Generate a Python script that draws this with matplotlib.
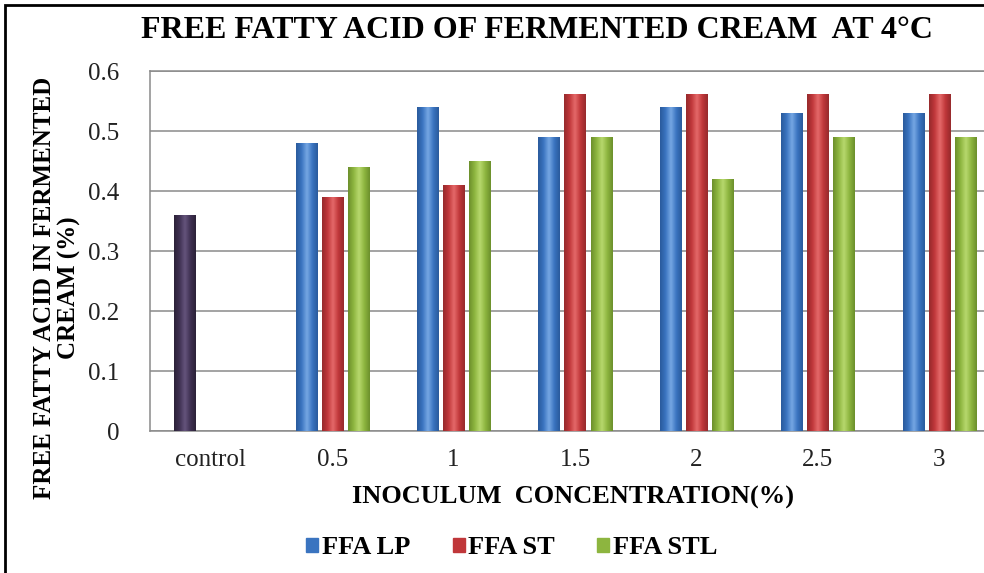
import numpy as np
import matplotlib
matplotlib.use('Agg')
import matplotlib.pyplot as plt
from matplotlib.colors import LinearSegmentedColormap
from matplotlib.patches import Rectangle

# Data
categories = ['control', '0.5', '1', '1.5', '2', '2.5', '3']
control_value = [0.36]
ffa_lp = [np.nan, 0.48, 0.54, 0.49, 0.54, 0.53, 0.53]
ffa_st = [np.nan, 0.39, 0.41, 0.56, 0.56, 0.56, 0.56]
ffa_stl = [np.nan, 0.44, 0.45, 0.49, 0.42, 0.49, 0.49]
series_names = ['FFA LP', 'FFA ST', 'FFA STL']
yticks = [0, 0.1, 0.2, 0.3, 0.4, 0.5, 0.6]

serif = 'Liberation Serif'

# base colour, edge shade, highlight
styles = {
    'FFA LP': ('#3a74c0', '#2a5a9c', '#77a8e4'),
    'FFA ST': ('#c0373a', '#962a2c', '#e56a6a'),
    'FFA STL': ('#8db53f', '#6c8f2c', '#b8d96e'),
    'control': ('#3f3152', '#2c2238', '#65557d'),
}


def shade_bars(ax, bars, colors):
    """Cylinder-like shading drawn over each bar."""
    base, dark, light = colors
    cmap = LinearSegmentedColormap.from_list('cyl', [dark, base, light, base, dark])
    grad = np.linspace(0, 1, 64).reshape(1, -1)
    for r in bars:
        h = r.get_height()
        if not np.isfinite(h):
            continue
        x0 = r.get_x()
        w = r.get_width()
        ax.imshow(grad, cmap=cmap, aspect='auto', extent=(x0, x0 + w, 0, h),
                  zorder=3, interpolation='bicubic')


fig = plt.figure(figsize=(9.84, 5.73), dpi=100)
ax = fig.add_axes([150 / 984, 142 / 573, 850 / 984, 360 / 573])

x = np.arange(len(categories))
width = 0.173
offsets = [-0.215, 0.0, 0.215]
all_series = [ffa_lp, ffa_st, ffa_stl]

for name, vals, off in zip(series_names, all_series, offsets):
    bars = ax.bar(x + off, vals, width, color=styles[name][0], zorder=2, label=name)
    shade_bars(ax, bars, styles[name])

ctrl = ax.bar(x[:1] + offsets[0], control_value, width, color=styles['control'][0], zorder=2)
shade_bars(ax, ctrl, styles['control'])

ax.set_xlim(-0.5, len(categories) - 0.5)
ax.set_ylim(0, 0.6)
ax.set_yticks(yticks)
ax.set_yticklabels([f'{t:g}' for t in yticks], fontfamily=serif, fontsize=18)
ax.set_xticks(x)
ax.set_xticklabels(categories, fontfamily=serif, fontsize=18)
ax.tick_params(axis='both', length=0, colors='#222222')
ax.tick_params(axis='y', pad=22)
ax.tick_params(axis='x', pad=13)
ax.grid(axis='y', color='#8a8a8a', linewidth=1.1, zorder=0)
ax.set_axisbelow(True)
for s in ['left', 'top', 'bottom', 'right']:
    ax.spines[s].set_color('#8a8a8a')
    ax.spines[s].set_linewidth(1.1)

fig.text(537 / 984, 1 - 31 / 573, 'FREE FATTY ACID OF FERMENTED CREAM  AT 4\u00b0C',
         ha='center', va='center', fontfamily=serif, fontweight='bold', fontsize=23)
fig.text(57 / 984, 1 - 288 / 573, 'FREE FATTY ACID IN FERMENTED\nCREAM (%)',
         ha='center', va='center', rotation=90, fontfamily=serif, fontweight='bold',
         fontsize=18, linespacing=1.1)
fig.text(573 / 984, 1 - 497 / 573, 'INOCULUM  CONCENTRATION(%)',
         ha='center', va='center', fontfamily=serif, fontweight='bold', fontsize=19)

handles = [Rectangle((0, 0), 1, 1, color=styles[n][0]) for n in series_names]
fig.legend(handles, series_names, loc='center', bbox_to_anchor=(512 / 984, 1 - 548 / 573),
           ncol=3, frameon=False, prop={'family': serif, 'weight': 'bold', 'size': 19},
           handlelength=0.45, handleheight=0.45, handletextpad=0.15, columnspacing=1.6)

# outer border of the chart (cut off at right and bottom in the original)
fig.patches.append(Rectangle((5 / 984, -0.1), 1.2, 1.1 - 5 / 573, transform=fig.transFigure,
                             fill=False, edgecolor='black', linewidth=2, clip_on=False))

fig.savefig('out.png', dpi=100)
